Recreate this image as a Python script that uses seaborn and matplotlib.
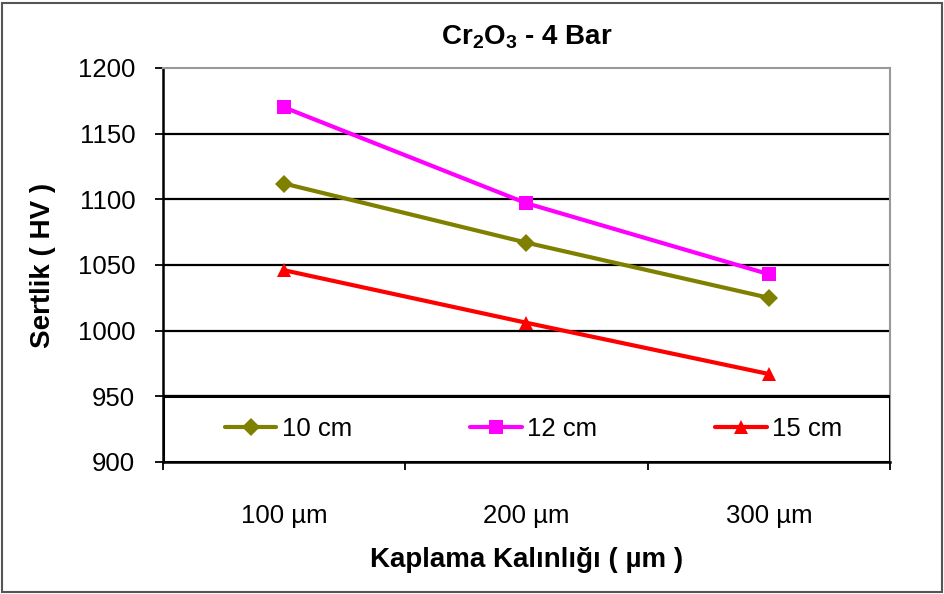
import matplotlib
matplotlib.use("Agg")
import matplotlib.pyplot as plt
import seaborn as sns
import pandas as pd
from matplotlib.patches import Rectangle

thickness = ["100 µm", "200 µm", "300 µm"]
series_names = ["10 cm", "12 cm", "15 cm"]
hv_10cm = [1112, 1067, 1025]
hv_12cm = [1170, 1097, 1043]
hv_15cm = [1046, 1006, 967]
yticks = [900, 950, 1000, 1050, 1100, 1150, 1200]

colors = ["#808000", "#FF00FF", "#FF0000"]
markers = ["D", "s", "^"]

rows = []
for name, vals in zip(series_names, [hv_10cm, hv_12cm, hv_15cm]):
    for t, v in zip(thickness, vals):
        rows.append({"Kalınlık": t, "HV": v, "Mesafe": name})
df = pd.DataFrame(rows)

sns.set_theme(style="white")
plt.rcParams["font.family"] = ["Liberation Sans", "DejaVu Sans"]
plt.rcParams["mathtext.default"] = "regular"
plt.rcParams["text.color"] = "black"
plt.rcParams["axes.labelcolor"] = "black"
plt.rcParams["xtick.color"] = "black"
plt.rcParams["ytick.color"] = "black"

fig = plt.figure(figsize=(9.45, 5.94), dpi=100)
ax = fig.add_axes([163/945, 1-462/594, (890-163)/945, (462-68)/594])

sns.lineplot(data=df, x="Kalınlık", y="HV", hue="Mesafe", style="Mesafe",
             palette=colors, markers=markers, dashes=False, markersize=9.5,
             linewidth=3, markeredgewidth=0, ax=ax, sort=False, zorder=3)

ax.set_xlim(-0.5, 2.5)
ax.set_ylim(900, 1200)
ax.set_yticks(yticks)
ax.set_yticklabels([str(v) for v in yticks], fontsize=18.5)
ax.set_xticks([0, 1, 2])
ax.set_xticklabels(thickness, fontsize=18.5)
ax.set_xticks([-0.5, 0.5, 1.5, 2.5], minor=True)
ax.tick_params(axis="x", which="major", length=0, pad=30)
ax.tick_params(axis="x", which="minor", length=6, width=1.3, color="black", direction="out", bottom=True)
ax.tick_params(axis="y", which="major", length=6, width=1.3, color="black", direction="out", left=True, pad=14)

for y in yticks[1:-1]:
    ax.axhline(y, color="black", linewidth=1.6, zorder=1)

for s in ["left", "bottom"]:
    ax.spines[s].set_color("black")
    ax.spines[s].set_linewidth(1.8)
for s in ["top", "right"]:
    ax.spines[s].set_color("#999999")
    ax.spines[s].set_linewidth(1.5)

ax.set_title("Cr$_2$O$_3$ - 4 Bar", fontsize=20, fontweight="bold", pad=17)
ax.set_xlabel("Kaplama Kalınlığı ( µm )", fontsize=20, fontweight="bold", labelpad=14)
ax.set_ylabel("Sertlik ( HV )", fontsize=20, fontweight="bold", labelpad=16)

# legend box occupying the 900-950 band
ax.add_patch(Rectangle((-0.5, 900), 3.0, 50, transform=ax.transData, facecolor="white",
                       edgecolor="black", linewidth=2.2, zorder=4))

leg = ax.legend(ncol=3, loc="center left",
                bbox_to_anchor=((225-163)/727, 25/300, (842-225)/727, 0.0),
                mode="expand", frameon=False, fontsize=18.5,
                handlelength=2.0, handletextpad=0.2, borderaxespad=0.0,
                borderpad=0.0, title=None)
leg.set_zorder(5)

fig.patches.append(Rectangle((2/945, 2/594), 940/945, 589/594, transform=fig.transFigure,
                             fill=False, edgecolor="#555555", linewidth=1.5))

fig.savefig("out.png", dpi=100)
